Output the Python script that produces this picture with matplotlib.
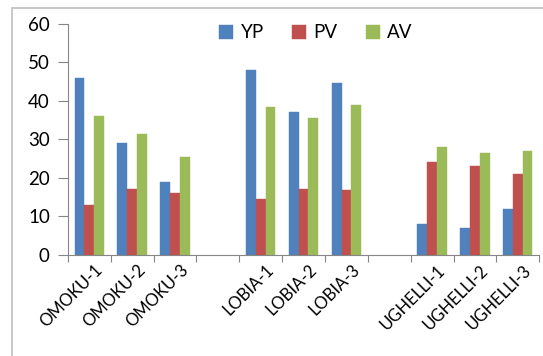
import numpy as np
from matplotlib import pyplot as plt
from matplotlib.patches import Rectangle

# categories with blank slots between the field groups
categories = ["OMOKU-1", "OMOKU-2", "OMOKU-3", "",
              "LOBIA-1", "LOBIA-2", "LOBIA-3", "",
              "UGHELLI-1", "UGHELLI-2", "UGHELLI-3"]
yp = [46, 29, 19, np.nan, 48, 37, 44.6, np.nan, 8, 7, 12]
pv = [13, 17, 16, np.nan, 14.5, 17, 16.8, np.nan, 24, 23, 21]
av = [36, 31.5, 25.5, np.nan, 38.5, 35.5, 39, np.nan, 28, 26.5, 27]
series = ["YP", "PV", "AV"]
colors = ["#4F81BD", "#C0504D", "#9BBB59"]

plt.rcParams['font.family'] = ['Lato', 'DejaVu Sans']

fig = plt.figure(figsize=(5.43, 3.56), dpi=100)
ax = fig.add_axes([0.125, 0.284, 0.868, 0.649])

# light border round the whole chart
fig.patches.append(Rectangle((12/543, -0.05), 1.0, 1.05 - 8/356, transform=fig.transFigure,
                             fill=False, edgecolor="#BFBFBF", linewidth=1.2))

x = np.arange(len(categories))
width = 0.228
for i, (name, vals) in enumerate(zip(series, [yp, pv, av])):
    ax.bar(x + (i - 1) * width, vals, width, color=colors[i], label=name,
           edgecolor=colors[i], linewidth=0.3)

ax.set_xlim(-0.5, len(categories) - 0.5)
ax.set_ylim(0, 60)
ax.set_yticks(range(0, 61, 10))
ax.set_xticks(np.arange(-0.5, len(categories), 1.0), minor=False)
ax.set_xticklabels([])
ax.set_xticks(x + 0.12, minor=True)
ax.set_xticklabels(categories, minor=True, rotation=45, ha="right",
                   rotation_mode="anchor", fontsize=12)
ax.tick_params(axis="x", which="minor", length=0, pad=5)
ax.tick_params(axis="x", which="major", length=5, color="#868686", direction="out")
ax.tick_params(axis="y", length=7, color="#868686", labelsize=13.5, pad=6)

for s in ["top", "right"]:
    ax.spines[s].set_visible(False)
for s in ["left", "bottom"]:
    ax.spines[s].set_color("#868686")

ax.legend(loc="center", bbox_to_anchor=(316/543, 1 - 33/356), bbox_transform=fig.transFigure,
          ncol=3, frameon=False, fontsize=13.5, handlelength=0.75, handleheight=0.75,
          handletextpad=0.4, columnspacing=1.5)

plt.savefig("out.png", dpi=100)
